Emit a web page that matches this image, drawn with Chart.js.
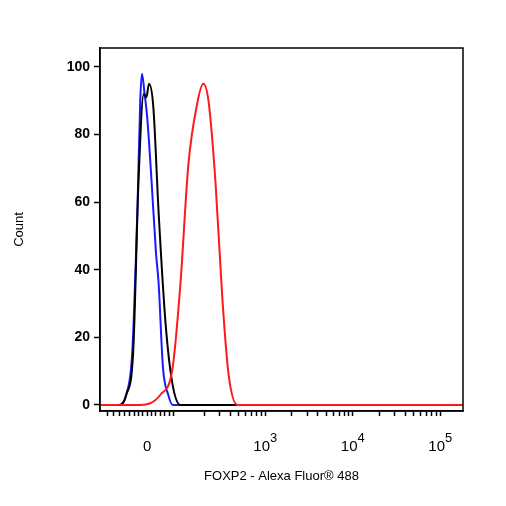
<!DOCTYPE html><html><head><style>html,body{margin:0;background:#fff}#w{width:506px;height:506px}</style>
<script src="https://cdn.jsdelivr.net/npm/chart.js@4"></script></head><body><div id="w"><canvas id="c"></canvas></div>
<script>
// x in display units: 3,4,5 = 10^3,10^4,10^5 ; 1.65 = 0
const blueX=[1.11,1.34,1.41,1.48,1.54,1.57,1.59,1.62,1.65,1.70,1.75,1.78,1.83,1.89,1.94,5.26];
const blueY=[0,0,3,16,60,90,98,92,85,66,45,36,11,3,0,0];
const blackX=[1.11,1.32,1.41,1.49,1.55,1.61,1.64,1.67,1.72,1.78,1.86,1.94,2.03,5.26];
const blackY=[0,0,3,16,66,92,91,95,88,57,24,6,0,0];
const redX=[1.11,1.57,1.80,1.94,2.03,2.12,2.22,2.29,2.35,2.43,2.51,2.58,2.68,5.26];
const redY=[0,0,3,11,36,71,89,95,90,66,31,9,0,0];
const majorTicks=[1.65,3,4,5];
const majorBase=['0','10','10','10'];
const majorExp=['','3','4','5'];
const yTicks=[0,20,40,60,80,100];
const pts=(xs,ys)=>xs.map((x,i)=>({x,y:ys[i]}));
const minor=[];
for(const d of [2,3,4]) for(let k=2;k<=9;k++) minor.push(d+Math.log10(k));
for(const v of [1.2,1.27,1.33,1.39,1.45,1.5,1.55,1.6,1.7,1.75,1.8,1.85,1.9,1.95]) minor.push(v);
const ds=(d,c)=>({data:d,borderColor:c,borderWidth:2,pointRadius:0,cubicInterpolationMode:'monotone',fill:false});
new Chart(document.getElementById('c'),{type:'line',
data:{datasets:[ds(pts(redX,redY),'#ff1a1a'),ds(pts(blackX,blackY),'#000'),ds(pts(blueX,blueY),'#1a1aff')]},
options:{responsive:true,maintainAspectRatio:false,animation:false,
layout:{padding:{top:48,right:43,left:8,bottom:18}},
plugins:{legend:{display:false},tooltip:{enabled:false}},
scales:{
x:{type:'linear',min:1.11,max:5.26,
 afterBuildTicks:a=>{a.ticks=[...majorTicks,...minor].map(v=>({value:v}));},
 afterFit:a=>{a.height=77;},
 grid:{display:true,drawOnChartArea:false,drawTicks:true,tickLength:5,tickColor:'#000',tickWidth:1.5},
 border:{color:'#000',width:1.5},
 ticks:{autoSkip:false,maxRotation:0,color:'rgba(0,0,0,0)',font:{family:'Liberation Sans',size:15},padding:8,callback:()=>''},
 title:{display:true,text:'FOXP2 - Alexa Fluor® 488',color:'#000',font:{family:'Liberation Sans',size:13},padding:{top:4}}},
y:{min:-1.8,max:105.6,
 afterBuildTicks:a=>{a.ticks=yTicks.map(v=>({value:v}));},
 afterFit:a=>{a.width=92;},
 grid:{display:true,drawOnChartArea:false,tickLength:6,tickColor:'#000',tickWidth:1.5},
 border:{color:'#000',width:1.5},
 ticks:{color:'#000',font:{family:'Liberation Sans',size:14,weight:'bold'},padding:4},
 title:{display:true,text:'Count',color:'#000',font:{family:'Liberation Sans',size:13},padding:{bottom:30}}}}},
plugins:[{id:'frame',afterDraw(c){const a=c.chartArea,x=c.ctx,s=c.scales.x;x.save();x.strokeStyle='#000';x.lineWidth=1.5;x.strokeRect(a.left,a.top,a.right-a.left,a.bottom-a.top);
x.fillStyle='#000';x.textBaseline='alphabetic';
majorTicks.forEach((v,i)=>{const px=s.getPixelForValue(v);x.font='15px "Liberation Sans"';const w=x.measureText(majorBase[i]).width;x.font='13px "Liberation Sans"';const we=x.measureText(majorExp[i]).width;
const st=px-(w+we)/2;x.font='15px "Liberation Sans"';x.fillText(majorBase[i],st,a.bottom+40);x.font='13px "Liberation Sans"';x.fillText(majorExp[i],st+w,a.bottom+31);});
x.restore();}}]
});
</script></body></html>
